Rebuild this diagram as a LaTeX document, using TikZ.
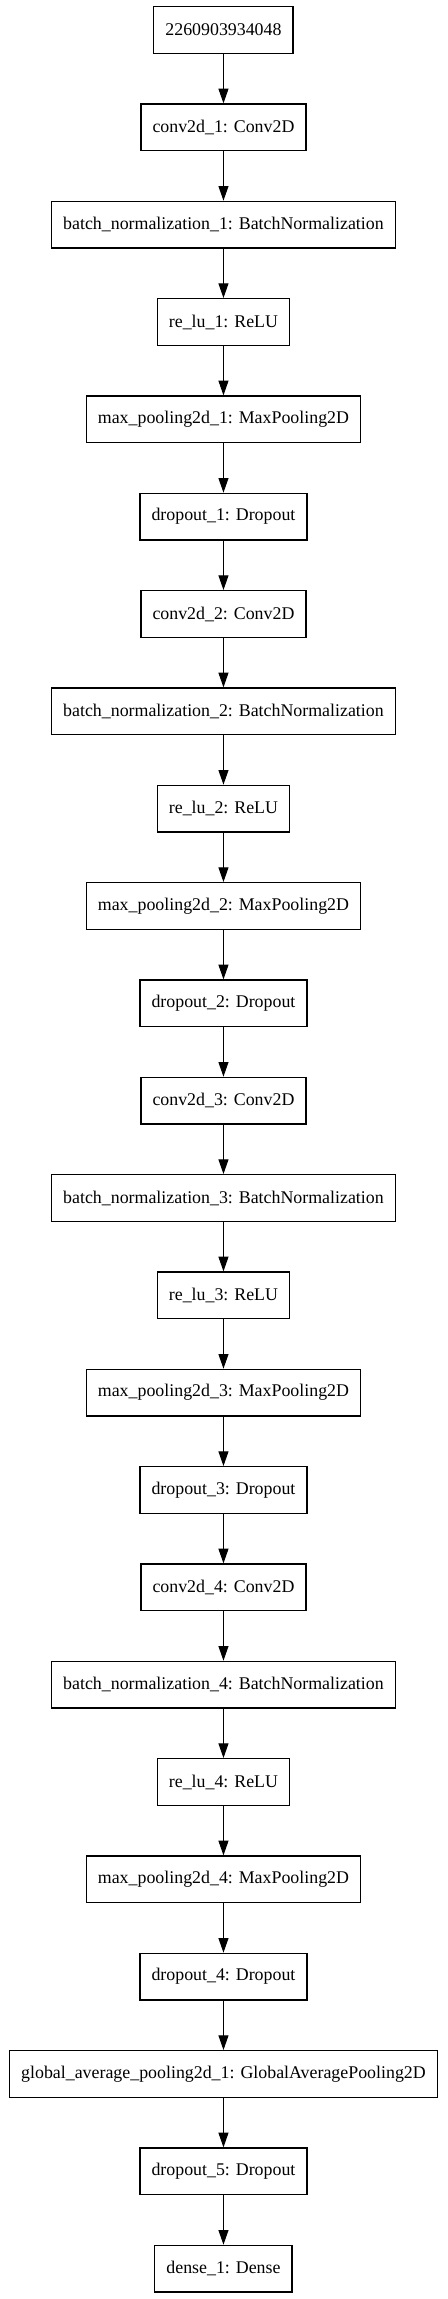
\documentclass[tikz,border=0pt]{standalone}
\usepackage{fontspec}
\setmainfont{Liberation Serif}
\usepackage{tikz}
\usetikzlibrary{arrows.meta,positioning}

\begin{document}
\begin{tikzpicture}[
    node distance=37pt,
    every node/.style={
        draw,
        rectangle,
        line width=1pt,
        align=center,
        font=\fontsize{13.4}{16}\selectfont,
        minimum height=35pt,
        inner xsep=8.7pt
    },
    arrow/.style={
        draw,
        line width=0.75pt,
        -{Triangle[length=11pt,width=7.5pt]}
    }
]
\useasboundingbox (0,0) rectangle (335.25pt,-1724.25pt);

\node (input) at (167.6pt,-22.5pt) {2260903934048};
\node[below=of input] (conv1) {conv2d\_1: Conv2D};
\node[below=of conv1] (bn1) {batch\_normalization\_1: BatchNormalization};
\node[below=of bn1] (relu1) {re\_lu\_1: ReLU};
\node[below=of relu1] (pool1) {max\_pooling2d\_1: MaxPooling2D};
\node[below=of pool1] (drop1) {dropout\_1: Dropout};
\node[below=of drop1] (conv2) {conv2d\_2: Conv2D};
\node[below=of conv2] (bn2) {batch\_normalization\_2: BatchNormalization};
\node[below=of bn2] (relu2) {re\_lu\_2: ReLU};
\node[below=of relu2] (pool2) {max\_pooling2d\_2: MaxPooling2D};
\node[below=of pool2] (drop2) {dropout\_2: Dropout};
\node[below=of drop2] (conv3) {conv2d\_3: Conv2D};
\node[below=of conv3] (bn3) {batch\_normalization\_3: BatchNormalization};
\node[below=of bn3] (relu3) {re\_lu\_3: ReLU};
\node[below=of relu3] (pool3) {max\_pooling2d\_3: MaxPooling2D};
\node[below=of pool3] (drop3) {dropout\_3: Dropout};
\node[below=of drop3] (conv4) {conv2d\_4: Conv2D};
\node[below=of conv4] (bn4) {batch\_normalization\_4: BatchNormalization};
\node[below=of bn4] (relu4) {re\_lu\_4: ReLU};
\node[below=of relu4] (pool4) {max\_pooling2d\_4: MaxPooling2D};
\node[below=of pool4] (drop4) {dropout\_4: Dropout};
\node[below=of drop4] (gap1) {global\_average\_pooling2d\_1: GlobalAveragePooling2D};
\node[below=of gap1] (drop5) {dropout\_5: Dropout};
\node[below=of drop5] (dense1) {dense\_1: Dense};

\draw[arrow] (input) -- (conv1);
\draw[arrow] (conv1) -- (bn1);
\draw[arrow] (bn1) -- (relu1);
\draw[arrow] (relu1) -- (pool1);
\draw[arrow] (pool1) -- (drop1);
\draw[arrow] (drop1) -- (conv2);
\draw[arrow] (conv2) -- (bn2);
\draw[arrow] (bn2) -- (relu2);
\draw[arrow] (relu2) -- (pool2);
\draw[arrow] (pool2) -- (drop2);
\draw[arrow] (drop2) -- (conv3);
\draw[arrow] (conv3) -- (bn3);
\draw[arrow] (bn3) -- (relu3);
\draw[arrow] (relu3) -- (pool3);
\draw[arrow] (pool3) -- (drop3);
\draw[arrow] (drop3) -- (conv4);
\draw[arrow] (conv4) -- (bn4);
\draw[arrow] (bn4) -- (relu4);
\draw[arrow] (relu4) -- (pool4);
\draw[arrow] (pool4) -- (drop4);
\draw[arrow] (drop4) -- (gap1);
\draw[arrow] (gap1) -- (drop5);
\draw[arrow] (drop5) -- (dense1);

\end{tikzpicture}
\end{document}
